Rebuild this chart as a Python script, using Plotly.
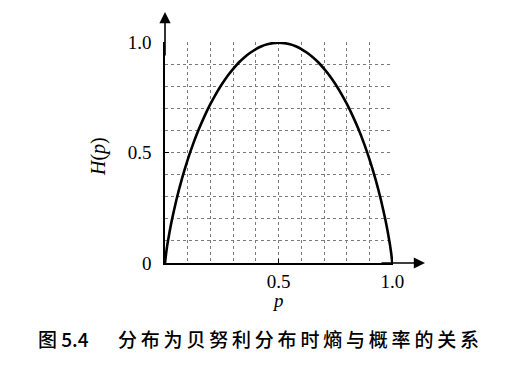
import plotly.graph_objects as go

# Data
p_vals = [0.0, 0.005, 0.01, 0.02, 0.03, 0.05, 0.075, 0.1, 0.125, 0.15, 0.175, 0.2, 0.225, 0.25, 0.275, 0.3,
          0.325, 0.35, 0.375, 0.4, 0.425, 0.45, 0.475, 0.5,
          0.525, 0.55, 0.575, 0.6, 0.625, 0.65, 0.675, 0.7, 0.725, 0.75, 0.775, 0.8, 0.825, 0.85, 0.875,
          0.9, 0.925, 0.95, 0.97, 0.98, 0.99, 0.995, 1.0]
h_vals = [0.0, 0.045, 0.081, 0.141, 0.194, 0.286, 0.384, 0.469, 0.544, 0.610, 0.669, 0.722, 0.769, 0.811, 0.849, 0.881,
          0.910, 0.934, 0.954, 0.971, 0.984, 0.993, 0.998, 1.0,
          0.998, 0.993, 0.984, 0.971, 0.954, 0.934, 0.910, 0.881, 0.849, 0.811, 0.769, 0.722, 0.669, 0.610, 0.544,
          0.469, 0.384, 0.286, 0.194, 0.141, 0.081, 0.045, 0.0]
x_tick_vals = [0.5, 1.0]
x_tick_text = ["0.5", "1.0"]
y_tick_vals = [0, 0.5, 1.0]
y_tick_text = ["0", "0.5", "1.0"]
caption_label = "图 5.4"
caption_text = "分布为贝努利分布时熵与概率的关系"

serif = "Liberation Serif, Times New Roman, serif"
cjk = "Noto Sans CJK SC"

# page has an 8px body margin; layout expressed in reference pixels
OFF = 8
X0, X1, Y0, Y1 = 165, 393, 263, 42   # reference pixel positions of axis 0 and 1


def px(X):
    return (X - X0) / (X1 - X0)


def py(Y):
    return (Y0 - Y) / (Y0 - Y1)


fig = go.Figure()
fig.add_trace(go.Scatter(x=p_vals, y=h_vals, mode="lines",
                         line=dict(color="black", width=2.6, shape="spline", smoothing=0.5),
                         cliponaxis=False, hoverinfo="skip", showlegend=False))

grid_style = dict(showgrid=True, gridcolor="#7a7a7a", gridwidth=1, griddash="dot")
minor_style = dict(dtick=0.1, showgrid=True, gridcolor="#7a7a7a", griddash="dot", ticks="")

fig.update_xaxes(range=[0, 1.003], tickvals=x_tick_vals, ticktext=x_tick_text,
                 showline=True, linecolor="black", linewidth=1.6, zeroline=False,
                 ticks="inside", ticklen=4, tickcolor="black", ticklabelstandoff=0,
                 tickfont=dict(family=serif, size=19, color="black"),
                 minor=minor_style, **grid_style)
fig.update_yaxes(range=[0, 1.003], tickvals=y_tick_vals, ticktext=y_tick_text,
                 showline=True, linecolor="black", linewidth=1.6, zeroline=False,
                 ticks="inside", ticklen=4, tickcolor="black", ticklabelstandoff=8,
                 tickfont=dict(family=serif, size=19, color="black"),
                 minor=minor_style, **grid_style)

# axis arrows
fig.add_annotation(xref="paper", yref="paper", x=px(425), y=0, ax=-45, ay=0, text="",
                   showarrow=True, arrowhead=2, arrowsize=1.4, arrowwidth=1.6, arrowcolor="black")
fig.add_annotation(xref="paper", yref="paper", x=0, y=py(12), ax=0, ay=45, text="",
                   showarrow=True, arrowhead=2, arrowsize=1.4, arrowwidth=1.6, arrowcolor="black")

# axis titles
fig.add_annotation(xref="paper", yref="paper", x=px(278), y=py(300), xanchor="center", yanchor="middle",
                   text="<i>p</i>", showarrow=False, font=dict(family=serif, size=19, color="black"))
fig.add_annotation(xref="paper", yref="paper", x=px(98), y=py(157), xanchor="center", yanchor="middle",
                   text="<i>H</i>(<i>p</i>)", showarrow=False, textangle=-90,
                   font=dict(family=serif, size=20, color="black"))

# caption
thin = "\u2009"
fig.add_annotation(xref="paper", yref="paper", x=px(36), y=py(338), xanchor="left", yanchor="middle",
                   text=caption_label, showarrow=False,
                   font=dict(family=cjk, size=19, color="black", weight=500))
fig.add_annotation(xref="paper", yref="paper", x=px(116), y=py(338), xanchor="left", yanchor="middle",
                   text=thin.join(caption_text), showarrow=False,
                   font=dict(family=cjk, size=19, color="black", weight=500))

W, H = 519 - OFF, 375 - OFF
fig.update_layout(width=W, height=H,
                  margin=dict(l=X0 - OFF, r=W - (X1 - OFF), t=Y1 - OFF, b=H - (Y0 - OFF)),
                  plot_bgcolor="white", paper_bgcolor="white")
fig.write_html("out.html")
